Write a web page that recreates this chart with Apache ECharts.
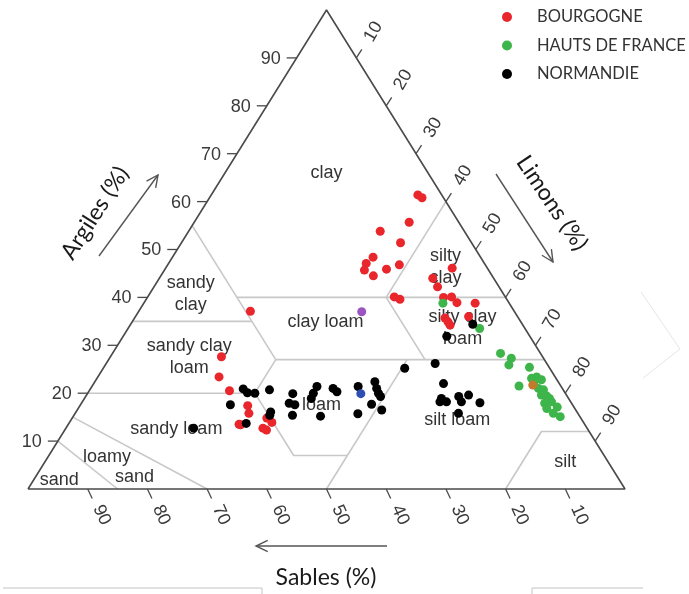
<!DOCTYPE html>
<html>
<head>
<meta charset="utf-8">
<script src="https://cdn.jsdelivr.net/npm/echarts/dist/echarts.min.js"></script>
<style>
  html, body { margin: 0; padding: 0; background: #fff; }
  #chart { width: 689px; height: 594px; }
</style>
</head>
<body>
<div id="chart"></div>
<script>
// Soil samples as [argile %, limon %]; sable = 100 - argile - limon
const bourgogne = [
  [61.4, 34.6], [60.8, 35.6], [55.7, 36.0], [53.8, 32.1], [51.4, 36.7], [48.4, 33.6],
  [47.1, 33.1], [45.7, 33.5], [44.5, 35.6], [45.9, 37.1], [46.8, 38.8], [46.1, 48.0],
  [44.0, 45.8], [42.2, 47.5], [40.1, 41.3], [39.6, 42.5], [40.0, 49.6], [40.1, 50.9],
  [38.9, 52.4], [38.8, 55.5], [36.0, 55.8], [35.7, 52.0], [34.9, 52.9], [34.2, 53.6],
  [37.1, 18.7], [27.6, 18.6], [23.4, 20.3], [20.5, 23.5], [17.4, 28.1], [15.8, 29.1],
  [13.5, 28.6], [13.4, 28.9], [14.8, 32.6], [13.9, 33.9], [12.7, 33.0], [12.3, 33.8]
];
const hautsDeFrance = [
  [38.8, 50.1], [33.5, 58.9], [28.3, 65.0], [27.3, 67.3], [25.9, 67.6], [25.4, 71.3],
  [21.5, 71.5], [23.1, 72.8], [23.4, 73.5], [22.8, 74.6], [21.0, 75.0], [20.7, 76.0],
  [19.6, 76.2], [18.9, 77.9], [17.9, 77.6], [18.2, 78.6], [17.1, 80.1], [16.8, 78.5],
  [15.8, 80.1], [15.1, 81.6], [22.3, 73.6], [19.4, 77.2]
];
const normandie = [
  [34.4, 57.3], [31.9, 54.2], [25.2, 50.5], [26.2, 55.1], [22.0, 58.6], [18.9, 59.8],
  [18.2, 61.0], [18.2, 59.9], [19.3, 62.5], [18.2, 63.5], [19.6, 64.0], [18.0, 66.7],
  [15.8, 64.2], [21.4, 44.6], [22.4, 46.9], [21.0, 47.9], [20.0, 48.7], [19.3, 49.4],
  [17.7, 48.7], [16.5, 51.0], [15.7, 47.4], [21.0, 40.6], [20.3, 41.6], [21.4, 37.7],
  [20.0, 37.8], [18.9, 38.0], [15.2, 41.4], [19.9, 34.4], [17.9, 34.8], [17.6, 35.9],
  [15.4, 36.6], [20.9, 25.6], [20.1, 26.7], [20.0, 28.0], [20.7, 30.1], [17.6, 25.1],
  [16.1, 32.6], [15.4, 32.8], [13.7, 29.7], [12.7, 21.4]
];
const violetSample = [[37.0, 37.4]];
const blueSample = [[19.9, 45.8]];
const orangeSample = [[21.7, 73.7]];

const tickValues = [10, 20, 30, 40, 50, 60, 70, 80, 90];

// USDA texture class boundaries, polylines of [argile, limon]
const boundaries = [
  [[55, 0], [27, 28], [20, 28], [7, 41], [7, 50]],
  [[40, 15], [40, 60]],
  [[35, 0], [35, 20]],
  [[27, 28], [27, 73]],
  [[60, 40], [40, 40], [27, 53]],
  [[20, 0], [20, 28]],
  [[27, 50], [0, 50]],
  [[12, 88], [12, 80], [0, 80]],
  [[15, 0], [0, 30]],
  [[10, 0], [0, 15]]
];

// Texture class names with their anchor [argile, limon]
const classLabels = [
  ['clay', 66.0, 17.0],
  ['sandy\nclay', 40.7, 6.9],
  ['clay loam', 34.9, 32.4],
  ['sandy clay\nloam', 27.6, 13.2],
  ['silty\nclay', 46.3, 46.8],
  ['silty clay\nloam', 33.6, 56.0],
  ['loam', 17.5, 40.4],
  ['sandy loam', 12.5, 18.6],
  ['silt loam', 14.4, 64.7],
  ['loamy', 6.7, 9.9],
  ['sand', 2.5, 16.6],
  ['sand', 1.9, 4.3],
  ['silt', 5.6, 87.2]
];

// ternary [argile, limon] -> plane x/y (x: 0..100 along the base, y: argile)
function toXY(p) { return [p[1] + p[0] / 2, p[0]]; }

const FONT = 'Liberation Sans, Arial, sans-serif';
const TITLE_FONT = 'Lato, Open Sans, sans-serif';

function tickSeries(points, tickVec, labelOff, rotation, align) {
  return {
    type: 'custom',
    clip: false,
    silent: true,
    z: 4,
    data: points,
    renderItem: function (params, api) {
      const p = api.coord([api.value(0), api.value(1)]);
      return {
        type: 'group',
        children: [
          { type: 'line', shape: { x1: p[0], y1: p[1], x2: p[0] + tickVec[0], y2: p[1] + tickVec[1] },
            style: { stroke: '#4a4a4a', lineWidth: 1.3 } },
          { type: 'text', x: p[0] + labelOff[0], y: p[1] + labelOff[1], rotation: rotation,
            style: { text: String(api.value(2)), fill: '#3a3a3a', fontSize: 18, fontFamily: FONT,
                     align: align, verticalAlign: 'middle' } }
        ]
      };
    }
  };
}

const series = [];

// texture class boundaries
boundaries.forEach(function (poly) {
  series.push({
    type: 'line', data: poly.map(toXY), symbol: 'none', clip: false, silent: true, z: 1,
    lineStyle: { color: '#c8c8c8', width: 1.6 }
  });
});

// triangle outline
series.push({
  type: 'line', data: [[0, 0], [100, 0], [50, 100], [0, 0]], symbol: 'none', clip: false, silent: true, z: 3,
  lineStyle: { color: '#4a4a4a', width: 1.6 }
});

// class names
series.push({
  type: 'custom', clip: false, silent: true, z: 2,
  data: classLabels.map(function (c) { const xy = toXY([c[1], c[2]]); return [xy[0], xy[1]]; }),
  renderItem: function (params, api) {
    const p = api.coord([api.value(0), api.value(1)]);
    return { type: 'text', x: p[0], y: p[1],
      style: { text: classLabels[params.dataIndex][0], fill: '#333', fontSize: 18, fontFamily: FONT,
               align: 'center', verticalAlign: 'middle', lineHeight: 22 } };
  }
});

// axis ticks: argile on the left edge, sable on the base, limon on the right edge
series.push(tickSeries(tickValues.map(function (v) { return [v / 2, v, v]; }), [-10, 0], [-16, 1], 0, 'right'));
series.push(tickSeries(tickValues.map(function (v) { return [100 - v, 0, v]; }), [4.5, 9.5], [14, 26], -1.15, 'center'));
series.push(tickSeries(tickValues.map(function (v) { return [50 + v / 2, 100 - v, v]; }), [5.5, -8.5], [17, -26], 1.05, 'center'));

function samples(name, data, color) {
  return {
    name: name, type: 'scatter', z: 6, symbol: 'circle', symbolSize: 9,
    data: data.map(toXY), itemStyle: { color: color, opacity: 1 }
  };
}
series.push(samples('BOURGOGNE', bourgogne, '#e8262b'));
series.push(samples('HAUTS DE FRANCE', hautsDeFrance, '#3db54a'));
series.push(samples('NORMANDIE', normandie, '#000000'));
series.push(samples('violet', violetSample, '#9b55c2'));
series.push(samples('bleu', blueSample, '#2d4fb3'));
series.push(samples('orange', orangeSample, '#c47a2c'));

function arrow(x1, y1, x2, y2) {
  const a = Math.atan2(y2 - y1, x2 - x1);
  const L = 13, w = 0.45;
  return [
    { type: 'line', shape: { x1: x1, y1: y1, x2: x2, y2: y2 }, style: { stroke: '#555', lineWidth: 1.4 } },
    { type: 'polyline', shape: { points: [
        [x2 - L * Math.cos(a - w), y2 - L * Math.sin(a - w)], [x2, y2],
        [x2 - L * Math.cos(a + w), y2 - L * Math.sin(a + w)]] },
      style: { stroke: '#555', lineWidth: 1.4, fill: null } }
  ];
}

const chart = echarts.init(document.getElementById('chart'), null, { renderer: 'canvas' });
chart.setOption({
  animation: false,
  backgroundColor: '#ffffff',
  grid: { left: 28, top: 10, width: 597, height: 479, containLabel: false },
  xAxis: { type: 'value', min: 0, max: 100, show: false },
  yAxis: { type: 'value', min: 0, max: 100, show: false },
  legend: {
    data: ['BOURGOGNE', 'HAUTS DE FRANCE', 'NORMANDIE'],
    orient: 'vertical', left: 497, top: 3, icon: 'circle',
    itemWidth: 10, itemHeight: 10, itemGap: 10.5,
    textStyle: { fontSize: 16.5, color: '#333', fontFamily: TITLE_FONT, lineHeight: 18, padding: [0, 0, 0, 20] }
  },
  series: series,
  graphic: [
    { type: 'text', x: 95, y: 213, rotation: 1.0,
      style: { text: 'Argiles (%)', fontSize: 23, fontFamily: TITLE_FONT, fill: '#1a1a1a', align: 'center', verticalAlign: 'middle' } },
    { type: 'text', x: 552, y: 203, rotation: -0.98,
      style: { text: 'Limons (%)', fontSize: 23, fontFamily: TITLE_FONT, fill: '#1a1a1a', align: 'center', verticalAlign: 'middle' } },
    { type: 'text', x: 326, y: 578,
      style: { text: 'Sables (%)', fontSize: 23, fontFamily: TITLE_FONT, fill: '#1a1a1a', align: 'center', verticalAlign: 'middle' } },
    { type: 'group', children: arrow(99, 256, 158, 175) },
    { type: 'group', children: arrow(496, 174, 553, 262) },
    { type: 'group', children: arrow(387, 546, 256, 546) },
    { type: 'polyline', shape: { points: [[3, 588], [262, 588], [262, 594]] }, style: { stroke: '#c4c4c4', lineWidth: 1, fill: null } },
    { type: 'polyline', shape: { points: [[532, 594], [532, 588], [643, 588]] }, style: { stroke: '#c4c4c4', lineWidth: 1, fill: null } },
    { type: 'polyline', shape: { points: [[641, 292], [680, 349], [643, 378]] }, style: { stroke: '#e6e6e6', lineWidth: 1, fill: null } }
  ]
});
</script>
</body>
</html>
